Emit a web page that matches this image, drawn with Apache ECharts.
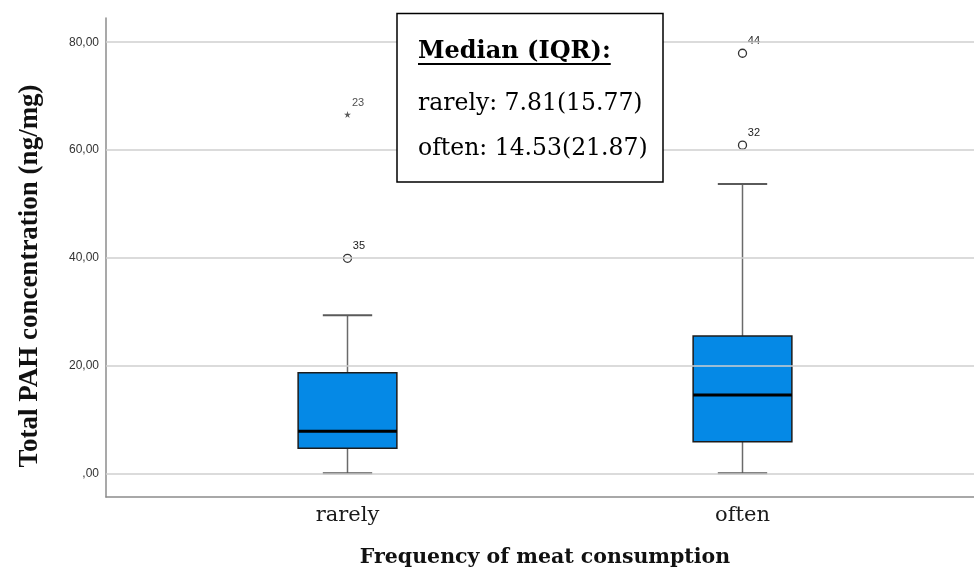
<!DOCTYPE html>
<html>
<head>
<meta charset="utf-8">
<script src="https://cdn.jsdelivr.net/npm/echarts@6/dist/echarts.min.js"></script>
<style>
  html, body { margin: 0; padding: 0; background: #fff; }
  #chart { width: 974px; height: 574px; }
</style>
</head>
<body>
<div id="chart"></div>
<script>
// Groups on the category axis
const categories = ['rarely', 'often'];

// Box summaries per group: [lower whisker, Q1, median, Q3, upper whisker]
const rarelyBox = [0, 4.64, 7.81, 18.67, 29.33];
const oftenBox = [0, 5.87, 14.53, 25.5, 53.7];

// Mild outliers (circles) and extreme values (stars) with case numbers
const outlierCategory = [0, 1, 1];
const outlierValues = [39.9, 60.9, 77.96];
const outlierIds = ['35', '32', '44'];
const extremeCategory = [0];
const extremeValues = [66.6];
const extremeIds = ['23'];

// Value axis ticks and their labels (decimal comma)
const yTicks = [0, 20, 40, 60, 80];
const yTickLabels = [',00', '20,00', '40,00', '60,00', '80,00'];

// Annotation box text
const summaryTitle = 'Median (IQR):';
const summaryLines = ['rarely: 7.81(15.77)', 'often: 14.53(21.87)'];

const yMin = -4.4;
const yMax = 84.5;

const boxFont = 'DejaVu Serif';
const titleFont = 'bold 24px "DejaVu Serif"';

function textWidth(font, text) {
  const ctx = document.createElement('canvas').getContext('2d');
  ctx.font = font;
  return ctx.measureText(text).width;
}

function renderBox(params, api) {
  const x = api.value(0);
  const pLow = api.coord([x, api.value(1)]);
  const pQ1 = api.coord([x, api.value(2)]);
  const pMed = api.coord([x, api.value(3)]);
  const pQ3 = api.coord([x, api.value(4)]);
  const pHigh = api.coord([x, api.value(5)]);
  const band = api.size([1, 0])[0];
  const bw = band * 0.25;
  const cap = bw / 2;
  const cx = pMed[0];
  const whisker = { stroke: '#6a6a6a', lineWidth: 1.5 };
  const capStyle = { stroke: '#5a5a5a', lineWidth: 2 };
  return {
    type: 'group',
    children: [
      { type: 'line', shape: { x1: cx, y1: pHigh[1], x2: cx, y2: pQ3[1] }, style: whisker },
      { type: 'line', shape: { x1: cx, y1: pQ1[1], x2: cx, y2: pLow[1] }, style: whisker },
      { type: 'line', shape: { x1: cx - cap / 2, y1: pHigh[1], x2: cx + cap / 2, y2: pHigh[1] }, style: capStyle },
      { type: 'line', shape: { x1: cx - cap / 2, y1: pLow[1], x2: cx + cap / 2, y2: pLow[1] }, style: capStyle },
      {
        type: 'rect',
        shape: { x: cx - bw / 2, y: pQ3[1], width: bw, height: pQ1[1] - pQ3[1] },
        style: { fill: '#0589e6', stroke: '#1c1c1c', lineWidth: 1.5 }
      },
      { type: 'line', shape: { x1: cx - bw / 2, y1: pMed[1], x2: cx + bw / 2, y2: pMed[1] }, style: { stroke: '#000', lineWidth: 3 } }
    ]
  };
}

const starPath = 'path://M50,0 L61,35 L98,35 L68,57 L79,91 L50,70 L21,91 L32,57 L2,35 L39,35 Z';

const titleWidth = textWidth(titleFont, summaryTitle);

const chart = echarts.init(document.getElementById('chart'), null, { renderer: 'canvas' });

chart.setOption({
  animation: false,
  backgroundColor: '#ffffff',
  grid: [
    { left: 106, right: 0, top: 18, bottom: 77 },
    { left: 150, right: 34, top: 18, bottom: 77 }
  ],
  xAxis: [
    {
      type: 'value', gridIndex: 0, min: 0, max: 1,
      axisLine: { show: true, onZero: false, lineStyle: { color: '#8c8c8c', width: 1.5 } },
      axisTick: { show: false }, axisLabel: { show: false }, splitLine: { show: false }
    },
    {
      type: 'category', gridIndex: 1, data: categories,
      axisLine: { show: false }, axisTick: { show: false }, splitLine: { show: false },
      axisLabel: { fontFamily: boxFont, fontSize: 21, color: '#1a1a1a', margin: 8 },
      name: 'Frequency of meat consumption',
      nameLocation: 'middle', nameGap: 50,
      nameTextStyle: { fontFamily: boxFont, fontWeight: 'bold', fontSize: 20.5, color: '#111' }
    }
  ],
  yAxis: [
    {
      type: 'value', gridIndex: 0, min: yMin, max: yMax,
      axisLine: { show: true, onZero: false, lineStyle: { color: '#8c8c8c', width: 1.5 } },
      axisTick: { show: false }, splitLine: { show: false },
      axisLabel: {
        showMinLabel: false, showMaxLabel: false, margin: 7,
        fontFamily: 'Liberation Sans', fontSize: 12, color: '#333',
        formatter: function (v) {
          const i = yTicks.indexOf(Math.round(v * 1000) / 1000);
          return i < 0 ? '' : yTickLabels[i];
        }
      }
    },
    { type: 'value', gridIndex: 1, min: yMin, max: yMax, show: false }
  ],
  series: [
    {
      type: 'line', xAxisIndex: 0, yAxisIndex: 0, data: [], z: 0, silent: true,
      markLine: {
        silent: true, symbol: 'none', animation: false,
        label: { show: false },
        lineStyle: { color: '#cfcfcf', width: 1.5, type: 'solid' },
        data: yTicks.map(function (v) { return { yAxis: v }; })
      }
    },
    {
      type: 'custom', xAxisIndex: 1, yAxisIndex: 1, z: 3,
      renderItem: renderBox,
      data: [[0].concat(rarelyBox), [1].concat(oftenBox)]
    },
    {
      type: 'scatter', xAxisIndex: 1, yAxisIndex: 1, z: 4,
      symbol: 'circle', symbolSize: 8,
      itemStyle: { color: '#fff', borderColor: '#333', borderWidth: 1.3, opacity: 1 },
      label: {
        show: true, formatter: '{b}', position: [10, -13],
        fontFamily: 'Liberation Sans', fontSize: 11, color: '#222'
      },
      data: outlierValues.map(function (v, i) {
        return { name: outlierIds[i], value: [outlierCategory[i], v] };
      })
    },
    {
      type: 'scatter', xAxisIndex: 1, yAxisIndex: 1, z: 4,
      symbol: starPath, symbolSize: 7,
      itemStyle: { color: '#333' },
      label: {
        show: true, formatter: '{b}', position: [8, -13],
        fontFamily: 'Liberation Sans', fontSize: 11, color: '#222'
      },
      data: extremeValues.map(function (v, i) {
        return { name: extremeIds[i], value: [extremeCategory[i], v] };
      })
    }
  ],
  graphic: [
    {
      type: 'text', x: 30, y: 276, rotation: Math.PI / 2,
      style: {
        text: 'Total PAH concentration (ng/mg)',
        font: 'bold 27px "Liberation Serif"', fill: '#111',
        align: 'center', verticalAlign: 'middle'
      }
    },
    {
      type: 'rect', z: 10,
      shape: { x: 397, y: 13.5, width: 266, height: 168.5 },
      style: { fill: '#fff', stroke: '#000', lineWidth: 1.5 }
    },
    {
      type: 'text', z: 11, x: 418, y: 52,
      style: { text: summaryTitle, font: titleFont, fill: '#000', align: 'left', verticalAlign: 'middle' }
    },
    {
      type: 'line', z: 11,
      shape: { x1: 418, y1: 64, x2: 418 + titleWidth, y2: 64 },
      style: { stroke: '#000', lineWidth: 2 }
    },
    {
      type: 'text', z: 11, x: 418, y: 104,
      style: { text: summaryLines[0], font: '23.5px "DejaVu Serif"', fill: '#000', align: 'left', verticalAlign: 'middle' }
    },
    {
      type: 'text', z: 11, x: 418, y: 149,
      style: { text: summaryLines[1], font: '23.5px "DejaVu Serif"', fill: '#000', align: 'left', verticalAlign: 'middle' }
    }
  ]
});
</script>
</body>
</html>
